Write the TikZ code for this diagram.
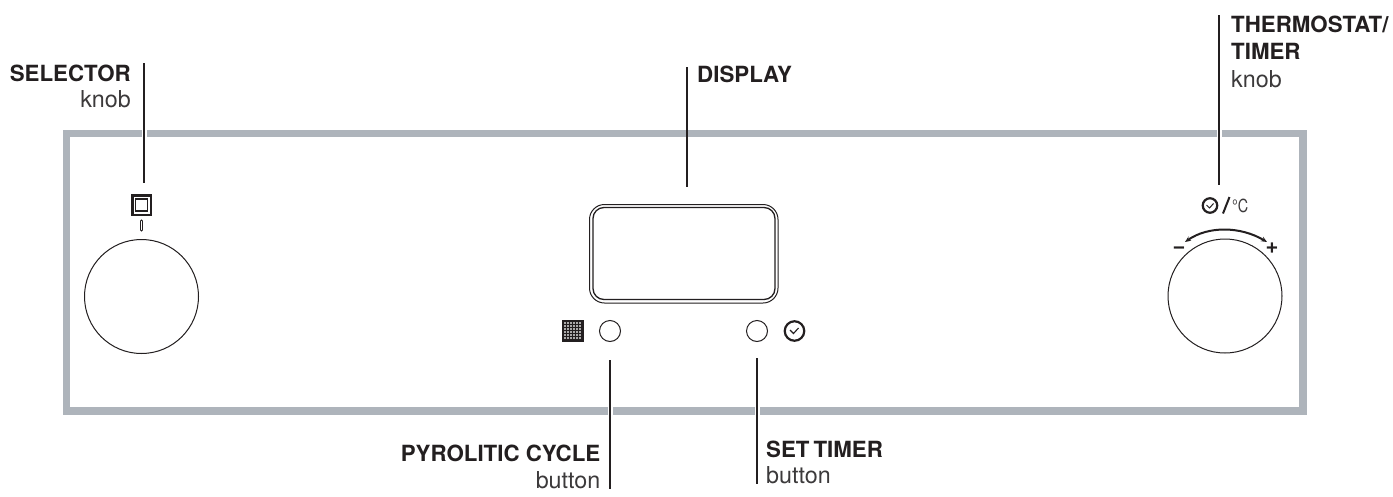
\documentclass[tikz,border=0pt]{standalone}
\usepackage{fontspec}
\setmainfont{TeX Gyre Heros}
\usetikzlibrary{arrows.meta}
\definecolor{panelgrey}{HTML}{AEB4BB}
\definecolor{ink}{HTML}{231F20}
\definecolor{softink}{HTML}{3C3A3B}
\tikzset{
  panelbox/.style={draw=panelgrey,line width=7.6pt},
  leader/.style={draw=ink,line width=1.8pt},
  gap/.style={draw=white,line width=5pt},
  knob/.style={circle,draw=ink,line width=1pt,minimum size=114pt,inner sep=0pt},
  pushbtn/.style={circle,draw=ink,line width=1pt,minimum size=21pt,inner sep=0pt},
  clockface/.style={circle,draw=ink,line width=2.2pt,inner sep=0pt},
  boldlab/.style={font=\fontsize{22.3}{26}\selectfont\bfseries,text=ink,inner sep=0pt},
  lightlab/.style={font=\fontsize{23.3}{26}\selectfont,text=softink,inner sep=0pt}
}
\begin{document}
\begin{tikzpicture}[x=1pt,y=-1pt]
\path[use as bounding box,fill=white] (0,0) rectangle (1393,496);
\draw[panelbox] (66.5,133.5) rectangle (1303,411);
\coordinate (selT) at (144,63);
\coordinate (selB) at (144,183);
\coordinate (disT) at (687,67);
\coordinate (disB) at (687,187);
\coordinate (theT) at (1219,15);
\coordinate (theB) at (1219,185);
\coordinate (pyrT) at (610,360);
\coordinate (pyrB) at (610,489);
\coordinate (setT) at (757,358);
\coordinate (setB) at (757,484);
\path[gap] (144,128) -- (144,139);
\path[gap] (1219,128) -- (1219,139);
\path[gap] (610,405) -- (610,416);
\path[gap] (757,405) -- (757,416);
\draw[leader] (selT) -- (selB);
\draw[leader] (disT) -- (disB);
\draw[leader] (theT) -- (theB);
\draw[leader] (pyrT) -- (pyrB);
\draw[leader] (setT) -- (setB);
\node[boldlab,anchor=base east] (lsel) at (131,81) {SELECTOR};
\node[lightlab,anchor=base east] (lselk) at (131,107) {knob};
\node[boldlab,anchor=base west] (ldis) at (697,82) {DISPLAY};
\node[boldlab,anchor=base west] (lthe) at (1231,32) {THERMOSTAT/};
\node[boldlab,anchor=base west] (lthe2) at (1231,59) {TIMER};
\node[lightlab,anchor=base west] (lthek) at (1231,87) {knob};
\node[boldlab,anchor=base east] (lpyr) at (600.5,461) {PYROLITIC CYCLE};
\node[lightlab,anchor=base east] (lpyrb) at (600.5,488) {button};
\node[boldlab,anchor=base west] (lset) at (766,457) {SET\hspace{4pt}TIMER};
\node[lightlab,anchor=base west] (lsetb) at (766,483) {button};
\node[knob] (kleft) at (141.5,296.5) {};
\node[knob] (kright) at (1225,296) {};
\draw[draw=ink,line width=2.6pt] (132.5,195.5) rectangle (151,215);
\draw[draw=ink,line width=1.3pt] (135.5,199) rectangle (147.5,211);
\draw[draw=ink,line width=.9pt,rounded corners=1pt] (140.5,220) rectangle (142.5,231);
\draw[draw=ink,line width=1pt,rounded corners=15pt] (589.5,204.5) rectangle (778,303);
\draw[draw=ink,line width=1.3pt,rounded corners=11pt] (593,207.5) rectangle (775,299.5);
\node[pushbtn] (bpyr) at (610,331) {};
\node[pushbtn] (bset) at (757,331) {};
\fill[ink] (562,320) rectangle (584,342);
\foreach \i in {0,...,5}{\foreach \j in {0,...,5}{
  \fill[white!62!ink] (564+\i*3,322+\j*3) rectangle ++(2,2);
}}
\node[clockface,minimum size=19.5pt] (cset) at (794.5,331) {};
\draw[draw=ink,line width=1.1pt] (790,330) -- (793.5,333.5) -- (798.5,328);
\node[clockface,minimum size=14.5pt] (cthe) at (1210,205.5) {};
\draw[draw=ink,line width=1pt] (1206.5,205) -- (1209.5,208) -- (1213.5,203.5);
\draw[draw=ink,line width=2pt] (1223,213.5) -- (1229.5,197);
\node[font=\fontsize{18}{20}\selectfont,text=softink,inner sep=0pt,anchor=base west,xscale=.8] (tdeg) at (1232,212.5) {°C};
\draw[draw=ink,line width=2pt,{Stealth[length=6pt,width=5pt]}-{Stealth[length=6pt,width=5pt]}] (1185,242) .. controls (1208,226) and (1240,226) .. (1267,242);
\node[font=\fontsize{22}{22}\selectfont\bfseries,text=ink,inner sep=0pt] (tplus) at (1272,248) {+};
\node[font=\fontsize{22}{22}\selectfont\bfseries,text=ink,inner sep=0pt] (tminus) at (1179,250) {−};
\end{tikzpicture}
\end{document}
